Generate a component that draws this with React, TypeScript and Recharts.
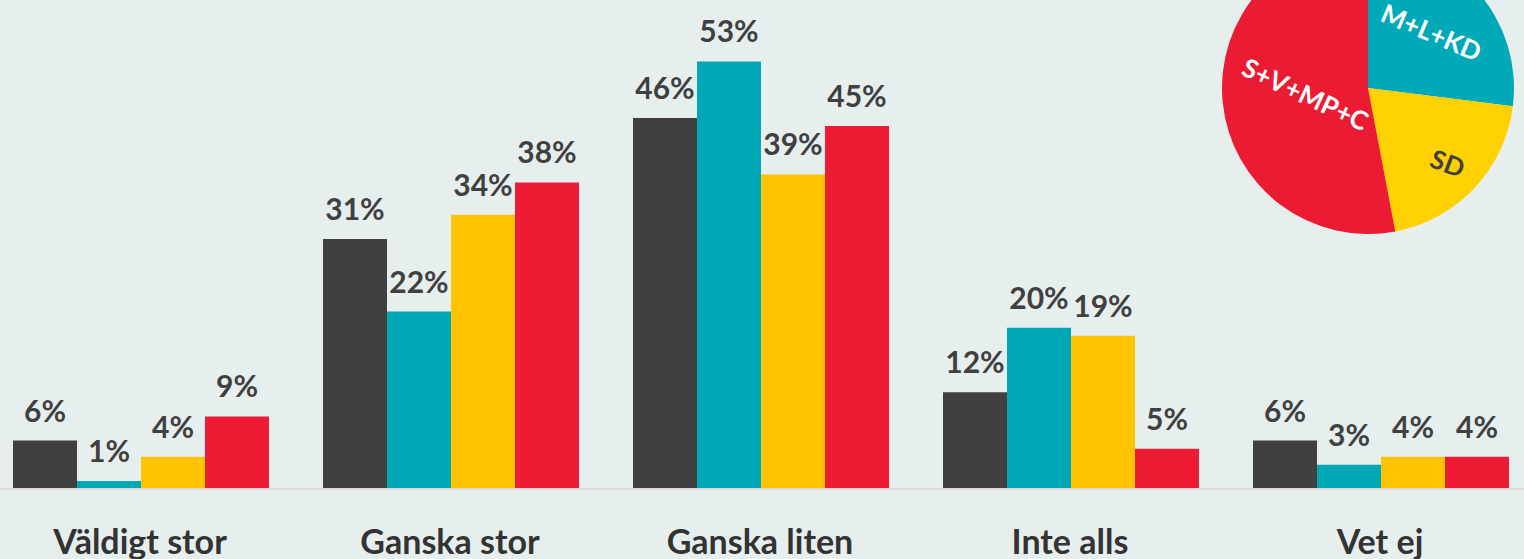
import React from 'react'
import { BarChart, Bar, XAxis, YAxis, PieChart, Pie, Cell, LabelList } from 'recharts'

// ── Data ──────────────────────────────────────────────
const categories = ['Väldigt stor', 'Ganska stor', 'Ganska liten', 'Inte alls', 'Vet ej']
const totalt = [6, 31, 46, 12, 6]
const mlkd = [1, 22, 53, 20, 3]
const sd = [4, 34, 39, 19, 4]
const svmpc = [9, 38, 45, 5, 4]

const blocs = ['M+L+KD', 'SD', 'S+V+MP+C']
const blocShares = [27, 20, 53]

const data = categories.map((name, i) => ({
  name, totalt: totalt[i], mlkd: mlkd[i], sd: sd[i], svmpc: svmpc[i],
}))
const pieData = blocs.map((name, i) => ({ name, value: blocShares[i] }))

const FONT = 'Lato, "Open Sans", sans-serif'
const TEXT = '#404040'
const series = [
  { key: 'totalt', color: '#404040' },
  { key: 'mlkd', color: '#00a8b7' },
  { key: 'sd', color: '#ffc400' },
  { key: 'svmpc', color: '#ed1b34' },
]
const pieColors = ['#00a9b8', '#ffd100', '#ec1b34']
const pieText = ['#ffffff', '#404040', '#ffffff']
const pieLabelRadius = [0.58, 0.75, 0.43]
const pieLabelRotate = [23, 21, 25]

const ValueLabel = (props: any) => {
  const { x, y, width, value } = props
  return (
    <text x={x + width / 2} y={y - 19} textAnchor="middle" fill={TEXT}
      fontSize={30} fontWeight={700} fontFamily={FONT}>
      {value}%
    </text>
  )
}

const CategoryTick = ({ x, y, payload }: any) => (
  <text x={x} y={y + 63} textAnchor="middle" fill="#333333"
    fontSize={34} fontWeight={700} fontFamily={FONT}>
    {payload.value}
  </text>
)

const RAD = Math.PI / 180
const PieLabel = (props: any) => {
  const { cx, cy, midAngle, outerRadius, index, name } = props
  const r = outerRadius * pieLabelRadius[index]
  const x = cx + r * Math.cos(-midAngle * RAD)
  const y = cy + r * Math.sin(-midAngle * RAD)
  return (
    <text x={x} y={y} textAnchor="middle" dominantBaseline="central"
      transform={`rotate(${pieLabelRotate[index]} ${x} ${y})`}
      fill={pieText[index]} fontSize={26} fontWeight={700} fontFamily={FONT}>
      {name}
    </text>
  )
}

export default function App() {
  return (
    <div style={{ position: 'relative', width: 1524, height: 559, overflow: 'hidden', background: '#e7efee' }}>
      <style>{'body{margin:0}'}</style>
      <div style={{ position: 'absolute', left: -15, top: 0 }}>
        <BarChart width={1550} height={559} data={data}
          margin={{ top: 5, right: 0, left: 0, bottom: 0 }}
          barCategoryGap={28} barGap={0}>
          <XAxis dataKey="name" interval={0} height={70} tickLine={false} tickSize={0}
            axisLine={{ stroke: '#d9d9d9', strokeWidth: 2 }} tick={<CategoryTick />} />
          <YAxis hide domain={[0, 60]} />
          {series.map(s => (
            <Bar key={s.key} dataKey={s.key} fill={s.color} isAnimationActive={false}>
              <LabelList dataKey={s.key} content={<ValueLabel />} />
            </Bar>
          ))}
        </BarChart>
      </div>
      <div style={{ position: 'absolute', left: 1218, top: -62 }}>
        <PieChart width={300} height={300} margin={{ top: 0, right: 0, bottom: 0, left: 0 }}>
          <Pie data={pieData} dataKey="value" nameKey="name" cx={150} cy={150}
            outerRadius={146} startAngle={90} endAngle={-270} stroke="none"
            label={PieLabel} labelLine={false} isAnimationActive={false}>
            {pieData.map((d, i) => <Cell key={d.name} fill={pieColors[i]} />)}
          </Pie>
        </PieChart>
      </div>
    </div>
  )
}
